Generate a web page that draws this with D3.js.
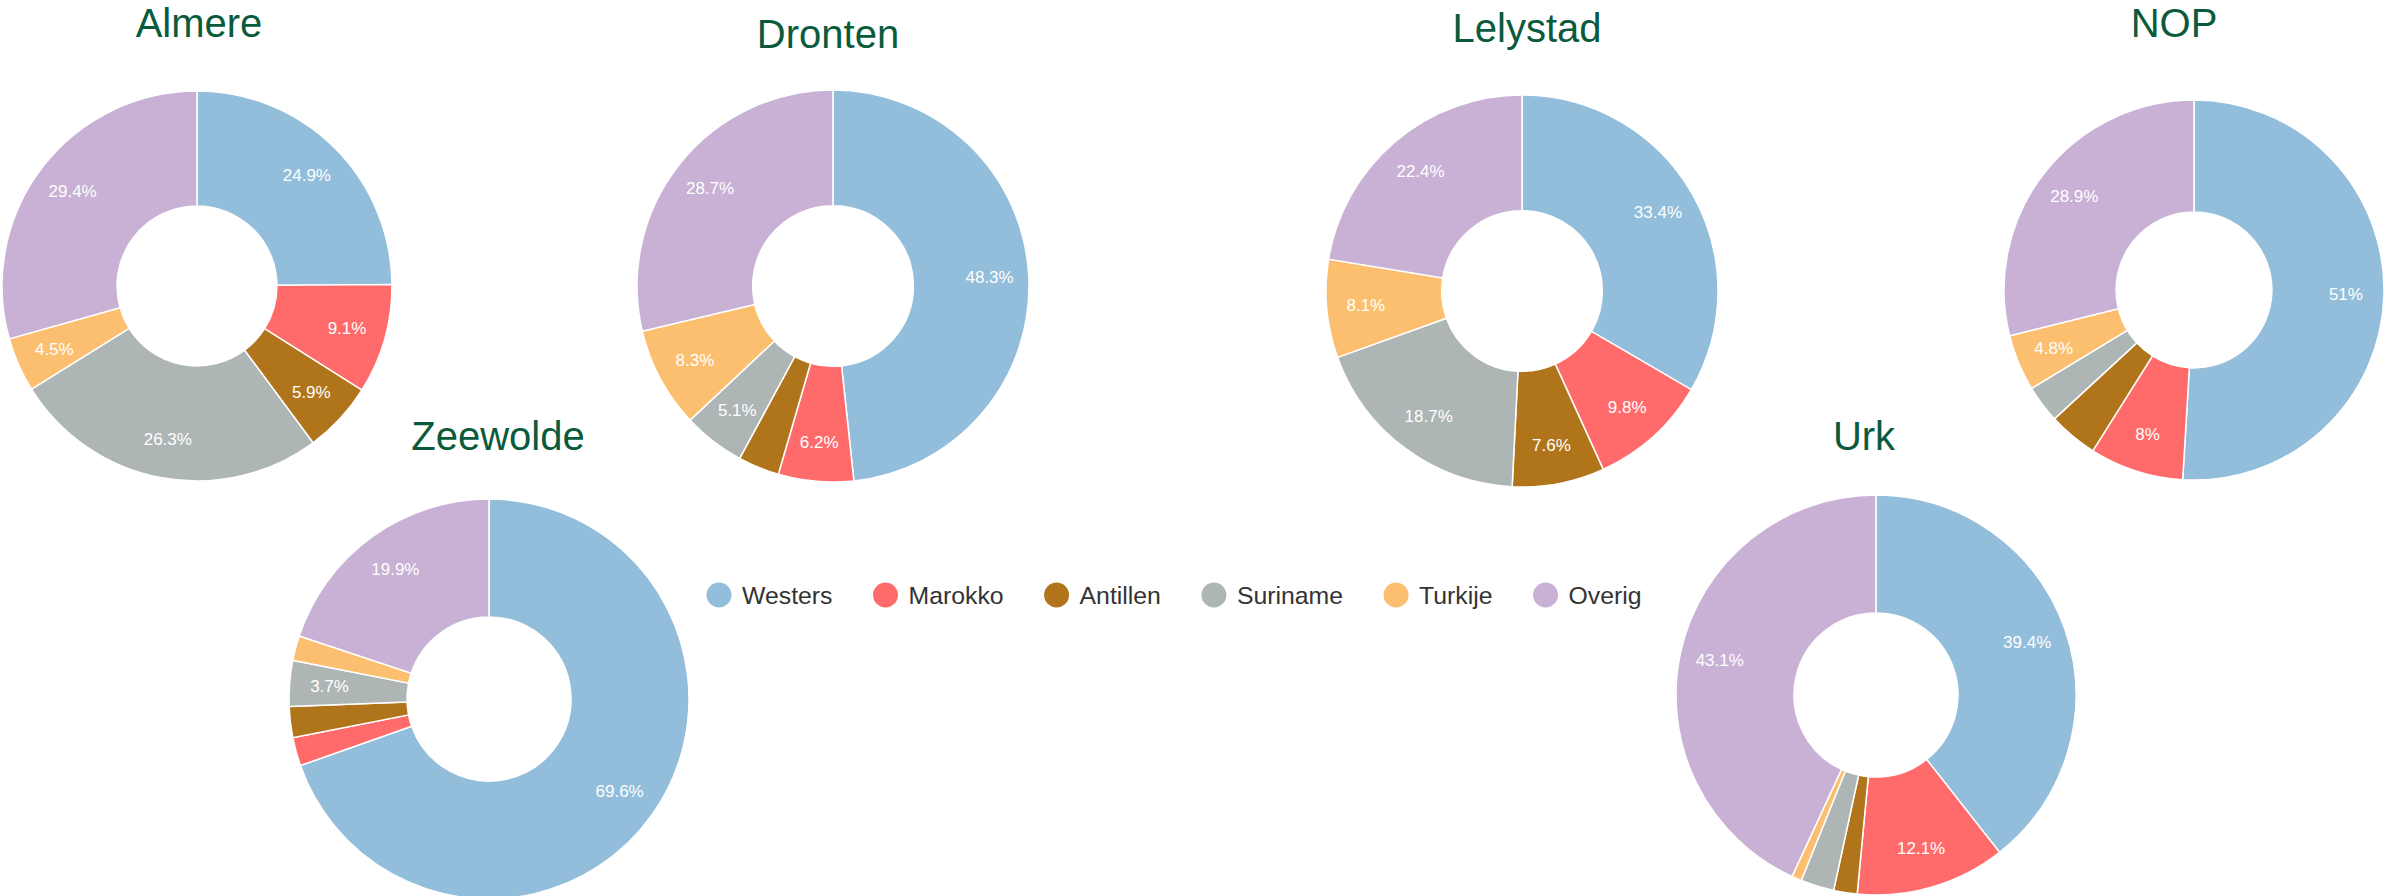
<!DOCTYPE html>
<html>
<head>
<meta charset="utf-8">
<script src="https://cdn.jsdelivr.net/npm/d3@7"></script>
<style>
    body { margin: 0; background: #fff; }
</style>
</head>
<body>
<div id="chart"></div>
<script>
// Categories and colors (same order for every town)
const categories = ["Westers", "Marokko", "Antillen", "Suriname", "Turkije", "Overig"];
const colors = ["#92bddb", "#ff6b6b", "#b0751b", "#aeb6b5", "#fcbf6f", "#c8b1d5"];

// Share of each category per town (percent)
const towns = ["Almere", "Dronten", "Lelystad", "NOP", "Zeewolde", "Urk"];
const almere   = [24.9, 9.1, 5.9, 26.3, 4.5, 29.4];
const dronten  = [48.3, 6.2, 3.4, 5.1, 8.3, 28.7];
const lelystad = [33.4, 9.8, 7.6, 18.7, 8.1, 22.4];
const nop      = [51, 8, 4.2, 3.2, 4.8, 28.9];
const zeewolde = [69.6, 2.3, 2.5, 3.7, 2.0, 19.9];
const urk      = [39.4, 12.1, 1.9, 2.7, 0.8, 43.1];
const townValues = [almere, dronten, lelystad, nop, zeewolde, urk];

// Where each donut sits on the page
const layout = [
    { cx: 197,  cy: 286, r: 195, tx: 199,  ty: 37 },
    { cx: 833,  cy: 286, r: 196, tx: 828,  ty: 48 },
    { cx: 1522, cy: 291, r: 196, tx: 1527, ty: 42 },
    { cx: 2194, cy: 290, r: 190, tx: 2174, ty: 37 },
    { cx: 489,  cy: 699, r: 200, tx: 498,  ty: 450 },
    { cx: 1876, cy: 695, r: 200, tx: 1864, ty: 450 }
];

const width = 2387;
const height = 896;
const labelSize = 17;

const svg = d3.select("#chart")
    .append("svg")
    .attr("width", width)
    .attr("height", height)
    .style("display", "block");

const color = d3.scaleOrdinal().domain(categories).range(colors);
const pie = d3.pie().sort(null).value(d => d);

// angle (clockwise from 12 o'clock) of a point relative to the centre
function angleOf(x, y) {
    let a = Math.atan2(x, -y);
    if (a < 0) a += 2 * Math.PI;
    return a;
}

towns.forEach((town, i) => {
    const pos = layout[i];
    const inner = pos.r * 0.41;
    const arc = d3.arc().innerRadius(inner).outerRadius(pos.r);
    const labelArc = d3.arc().innerRadius(pos.r * 0.8).outerRadius(pos.r * 0.8);

    const data = townValues[i].map((v, k) => ({ label: categories[k], value: v }));
    const arcsData = pie.value(d => d.value)(data);

    // Title
    svg.append("text")
        .attr("x", pos.tx)
        .attr("y", pos.ty)
        .attr("text-anchor", "middle")
        .attr("font-family", "'Liberation Sans', Arial, sans-serif")
        .attr("font-size", "40px")
        .attr("fill", "#0a5a3c")
        .text(town);

    const g = svg.append("g")
        .attr("transform", `translate(${pos.cx}, ${pos.cy})`);

    g.selectAll("path")
        .data(arcsData)
        .enter()
        .append("path")
        .attr("d", arc)
        .attr("fill", d => color(d.data.label))
        .attr("stroke", "#fff")
        .attr("stroke-width", 1.5);

    // Percent labels, only when the text box fits inside the slice
    arcsData.forEach(d => {
        const [x, y] = labelArc.centroid(d);
        const t = g.append("text")
            .attr("x", x)
            .attr("y", y)
            .attr("text-anchor", "middle")
            .attr("dominant-baseline", "central")
            .attr("font-family", "'Liberation Sans', Arial, sans-serif")
            .attr("font-size", labelSize + "px")
            .attr("fill", "#fff")
            .text(`${d.data.value}%`);

        const w = t.node().getComputedTextLength();
        const h = labelSize * 1.15;
        const corners = [
            [x - w / 2, y - h / 2], [x + w / 2, y - h / 2],
            [x - w / 2, y + h / 2], [x + w / 2, y + h / 2]
        ];
        const fits = corners.every(([cx, cy]) => {
            const a = angleOf(cx, cy);
            const rr = Math.hypot(cx, cy);
            return a >= d.startAngle && a <= d.endAngle && rr >= inner && rr <= pos.r;
        });
        if (!fits) t.remove();
    });
});

// Legend
const legend = svg.append("g");
let lx = 719;
const ly = 595;
categories.forEach(c => {
    legend.append("circle")
        .attr("cx", lx)
        .attr("cy", ly)
        .attr("r", 12.5)
        .attr("fill", color(c));
    const label = legend.append("text")
        .attr("x", lx + 23)
        .attr("y", ly + 8.5)
        .attr("font-family", "'Liberation Sans', Arial, sans-serif")
        .attr("font-size", "24.8px")
        .attr("fill", "#333")
        .text(c);
    lx += 23 + label.node().getComputedTextLength() + 53;
});
</script>
</body>
</html>
